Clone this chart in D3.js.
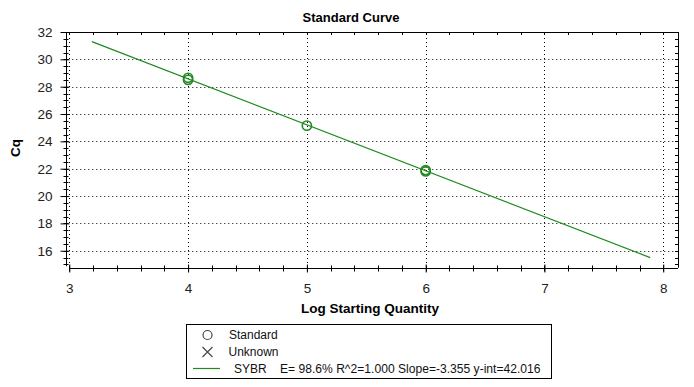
<!DOCTYPE html>
<html>
<head>
<meta charset="utf-8">
<script src="https://cdn.jsdelivr.net/npm/d3@7"></script>
<style>
  html, body { margin: 0; padding: 0; background: #fff; }
  svg { display: block; font-family: "Liberation Sans", Arial, sans-serif; }
  .tick text { fill: #222; font-size: 13.5px; }
</style>
</head>
<body>
<div id="chart"></div>
<script>
'use strict';

// Standard points (log quantity / Cq)
const stdLog = [4, 4, 5, 6, 6];
const stdCq  = [28.65, 28.5, 25.15, 21.9, 21.8];

// fitted line end points
const fitLog = [3.19, 7.89];
const fitCq  = [31.3, 15.5];

const xTicks = [3, 4, 5, 6, 7, 8];
const yTicks = [16, 18, 20, 22, 24, 26, 28, 30, 32];

const legendRows = ['Standard', 'Unknown', 'SYBR'];
const fitText = 'E= 98.6% R^2=1.000 Slope=-3.355 y-int=42.016';

(function () {
  const W = 694, H = 387;
  const pL = 69.3, pR = 678, pT = 32, pB = 267.7;
  const green = '#1f8a1f';

  const x = d3.scaleLinear().domain([3, 8.124]).range([pL, pR]);
  const y = d3.scaleLinear().domain([14.76, 32]).range([pB, pT]);
  const px = v => Math.round(v) + 0.5;

  const svg = d3.select('#chart').append('svg')
    .attr('width', W).attr('height', H);

  // title
  svg.append('text')
    .attr('x', 351).attr('y', 22)
    .attr('text-anchor', 'middle')
    .style('font-size', '13px').style('font-weight', 'bold')
    .text('Standard Curve');

  // dotted grid
  const grid = svg.append('g').attr('stroke', '#000').attr('stroke-dasharray', '1,3').attr('stroke-width', 1);
  grid.selectAll('line.gy').data(yTicks.filter(d => d < 32)).join('line')
    .attr('x1', pL + 3).attr('x2', pR)
    .attr('y1', d => px(y(d))).attr('y2', d => px(y(d)));
  grid.selectAll('line.gx').data(xTicks).join('line')
    .attr('y1', pT + 2).attr('y2', pB)
    .attr('x1', d => px(x(d))).attr('x2', d => px(x(d)));

  // minor ticks
  const yMinor = d3.range(15, 32.01, 0.5);
  const xMinor = d3.range(3, 8.11, 0.2);
  const frame = svg.append('g').attr('stroke', '#000').attr('stroke-width', 1);

  // left axis (sits 3px left of the plot)
  const yAx = 66.5;
  svg.append('g')
    .attr('transform', `translate(${yAx},0)`)
    .call(d3.axisLeft(y).tickValues(yTicks).tickSize(5).tickPadding(9).tickFormat(d3.format('d')))
    .call(g => g.select('.domain').attr('d', `M0,${pT}V${pB - 1.5}`))
    .call(g => g.selectAll('.tick line').attr('x2', -6).attr('x1', 3));
  frame.selectAll('line.ym').data(yMinor).join('line')
    .attr('x1', yAx - 3).attr('x2', yAx + 2)
    .attr('y1', d => px(y(d))).attr('y2', d => px(y(d)));

  // bottom axis
  svg.append('g')
    .attr('transform', `translate(0,${px(pB)})`)
    .call(d3.axisBottom(x).tickValues(xTicks).tickSize(4).tickPadding(11).tickFormat(d3.format('d')))
    .call(g => g.select('.domain').attr('d', `M${pL},0H${pR}`))
    .call(g => g.selectAll('.tick line').attr('y1', -4).attr('y2', 4));
  frame.selectAll('line.xm').data(xMinor).join('line')
    .attr('y1', px(pB) - 3).attr('y2', px(pB) + 3)
    .attr('x1', d => px(x(d))).attr('x2', d => px(x(d)));

  // top and right borders with inward ticks
  frame.append('line').attr('x1', yAx).attr('x2', pR).attr('y1', pT + 0.5).attr('y2', pT + 0.5);
  frame.append('line').attr('x1', pR + 0.5).attr('x2', pR + 0.5).attr('y1', pT).attr('y2', pB);
  frame.selectAll('line.rm').data(yMinor).join('line')
    .attr('x1', pR - 3).attr('x2', pR)
    .attr('y1', d => px(y(d))).attr('y2', d => px(y(d)));
  frame.selectAll('line.tm').data(xMinor).join('line')
    .attr('y1', pT).attr('y2', pT + 3)
    .attr('x1', d => px(x(d))).attr('x2', d => px(x(d)));

  // fitted line
  svg.append('path')
    .datum(fitLog.map((d, i) => [d, fitCq[i]]))
    .attr('fill', 'none').attr('stroke', green).attr('stroke-width', 1.2)
    .attr('d', d3.line().x(d => x(d[0])).y(d => y(d[1])));

  // standard points
  svg.append('g').selectAll('circle').data(stdLog).join('circle')
    .attr('cx', d => x(d)).attr('cy', (d, i) => y(stdCq[i]))
    .attr('r', 4.6).attr('fill', 'none').attr('stroke', green).attr('stroke-width', 1.6);

  // axis titles
  svg.append('text')
    .attr('x', 370).attr('y', 313)
    .attr('text-anchor', 'middle')
    .style('font-size', '13.5px').style('font-weight', 'bold')
    .text('Log Starting Quantity');
  svg.append('text')
    .attr('transform', 'translate(19.5,148) rotate(-90)')
    .attr('text-anchor', 'middle')
    .style('font-size', '13.5px').style('font-weight', 'bold')
    .text('Cq');

  // legend
  const lg = svg.append('g');
  lg.append('rect').attr('x', 186.5).attr('y', 324.5).attr('width', 365).attr('height', 54)
    .attr('fill', '#fff').attr('stroke', '#000');
  lg.append('circle').attr('cx', 207.5).attr('cy', 335).attr('r', 4.5)
    .attr('fill', 'none').attr('stroke', '#444').attr('stroke-width', 1.2);
  lg.append('path').attr('d', 'M202.5,347L212.5,357M212.5,347L202.5,357')
    .attr('stroke', '#444').attr('stroke-width', 1.1);
  lg.append('line').attr('x1', 193).attr('x2', 220).attr('y1', 368.5).attr('y2', 368.5)
    .attr('stroke', green).attr('stroke-width', 1.2);
  const rowY = [339, 356, 373];
  const rowX = [229, 228.5, 234];
  lg.selectAll('text.row').data(legendRows).join('text')
    .attr('x', (d, i) => rowX[i]).attr('y', (d, i) => rowY[i])
    .style('font-size', '12px').attr('fill', '#111')
    .text(d => d);
  lg.append('text').attr('x', 280).attr('y', 373)
    .style('font-size', '12.1px').attr('fill', '#111')
    .text(fitText);
})();
</script>
</body>
</html>
